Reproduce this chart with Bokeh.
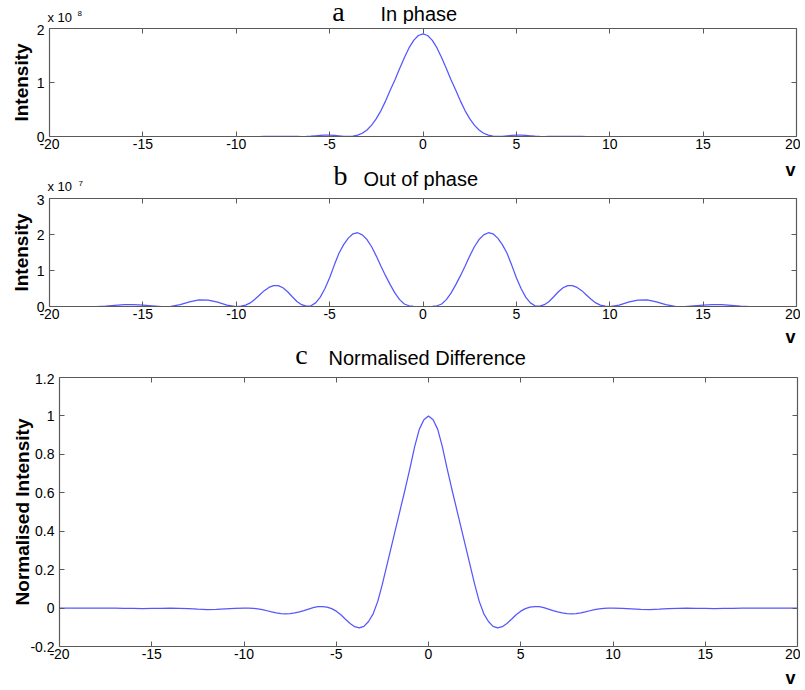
from bokeh.plotting import figure
from bokeh.models import Range1d, FixedTicker, Label, LinearAxis
from bokeh.layouts import column
from bokeh.embed import file_html
from bokeh.resources import INLINE

# ---------------- data ----------------
V = [-20, -19.5, -19, -18.5, -18, -17.5, -17, -16.5, -16, -15.5,
     -15, -14.5, -14, -13.5, -13, -12.5, -12, -11.5, -11, -10.5,
     -10, -9.75, -9.5, -9.25, -9, -8.75, -8.5, -8.25, -8, -7.75,
     -7.5, -7.25, -7, -6.75, -6.5, -6.25, -6, -5.75, -5.5, -5.25,
     -5, -4.75, -4.5, -4.25, -4, -3.75, -3.5, -3.25, -3, -2.75,
     -2.5, -2.25, -2, -1.75, -1.5, -1.25, -1, -0.75, -0.5, -0.25,
     0,
     0.25, 0.5, 0.75, 1, 1.25, 1.5, 1.75, 2, 2.25, 2.5,
     2.75, 3, 3.25, 3.5, 3.75, 4, 4.25, 4.5, 4.75, 5,
     5.25, 5.5, 5.75, 6, 6.25, 6.5, 6.75, 7, 7.25, 7.5,
     7.75, 8, 8.25, 8.5, 8.75, 9, 9.25, 9.5, 9.75, 10,
     10.5, 11, 11.5, 12, 12.5, 13, 13.5, 14, 14.5, 15,
     15.5, 16, 16.5, 17, 17.5, 18, 18.5, 19, 19.5, 20]

# In phase intensity, units of 1e8
IN_PHASE = [0, 0, 0, 0, 0, 0, 0, 0, 0, 0,
            0, 0, 0, 0, 0, 0, 0, 0, 0, 0,
            0, 0, 0, 0, 0, 0, 0.001, 0.002, 0.003, 0.004,
            0.004, 0.003, 0.002, 0.001, 0, 0.001, 0.005, 0.012, 0.019, 0.024,
            0.025, 0.02, 0.012, 0.004, 0.002, 0.008, 0.025, 0.06, 0.12, 0.21,
            0.33, 0.48, 0.66, 0.86, 1.05, 1.26, 1.46, 1.64, 1.78, 1.87,
            1.90,
            1.87, 1.78, 1.64, 1.46, 1.26, 1.05, 0.86, 0.66, 0.48, 0.33,
            0.21, 0.12, 0.06, 0.025, 0.008, 0.002, 0.004, 0.012, 0.02, 0.025,
            0.024, 0.019, 0.012, 0.005, 0.001, 0, 0.001, 0.002, 0.003, 0.004,
            0.004, 0.003, 0.002, 0.001, 0, 0, 0, 0, 0, 0,
            0, 0, 0, 0, 0, 0, 0, 0, 0, 0,
            0, 0, 0, 0, 0, 0, 0, 0, 0, 0]

# Out of phase intensity, units of 1e7
OUT_PHASE = [0, 0, 0, 0, 0, 0, 0.01, 0.03, 0.05, 0.05,
             0.04, 0.02, 0, 0.005, 0.05, 0.13, 0.185, 0.18, 0.12, 0.04,
             0, 0.01, 0.04, 0.1, 0.2, 0.32, 0.44, 0.53, 0.58, 0.58,
             0.52, 0.41, 0.27, 0.14, 0.05, 0.01, 0.02, 0.1, 0.26, 0.5,
             0.8, 1.15, 1.48, 1.72, 1.9, 2.02, 2.05, 1.99, 1.86, 1.66,
             1.4, 1.12, 0.85, 0.6, 0.37, 0.19, 0.07, 0.02, 0.005, 0,
             0,
             0, 0.005, 0.02, 0.07, 0.19, 0.37, 0.6, 0.85, 1.12, 1.4,
             1.66, 1.86, 1.99, 2.05, 2.02, 1.9, 1.72, 1.48, 1.15, 0.8,
             0.5, 0.26, 0.1, 0.02, 0.01, 0.05, 0.14, 0.27, 0.41, 0.52,
             0.58, 0.58, 0.53, 0.44, 0.32, 0.2, 0.1, 0.04, 0.01, 0,
             0.04, 0.12, 0.18, 0.185, 0.13, 0.05, 0.005, 0, 0.02, 0.04,
             0.05, 0.05, 0.03, 0.01, 0, 0, 0, 0, 0, 0]

# Normalised difference
NORM_DIFF = [0, 0, 0, 0, 0, 0, 0, -0.001, -0.002, -0.003,
             -0.002, -0.001, 0, -0.001, -0.003, -0.006, -0.008, -0.007, -0.004, -0.001,
             0, 0, -0.001, -0.004, -0.008, -0.014, -0.02, -0.025, -0.029, -0.03,
             -0.029, -0.025, -0.02, -0.013, -0.005, 0.002, 0.007, 0.008, 0.005, -0.003,
             -0.016, -0.035, -0.058, -0.08, -0.097, -0.103, -0.095, -0.07, -0.03, 0.035,
             0.125, 0.225, 0.325, 0.425, 0.525, 0.625, 0.73, 0.84, 0.93, 0.98,
             1.0,
             0.98, 0.93, 0.84, 0.73, 0.625, 0.525, 0.425, 0.325, 0.225, 0.125,
             0.035, -0.03, -0.07, -0.095, -0.103, -0.097, -0.08, -0.058, -0.035, -0.016,
             -0.003, 0.005, 0.008, 0.007, 0.002, -0.005, -0.013, -0.02, -0.025, -0.029,
             -0.03, -0.029, -0.025, -0.02, -0.014, -0.008, -0.004, -0.001, 0, 0,
             -0.001, -0.004, -0.007, -0.008, -0.006, -0.003, -0.001, 0, -0.001, -0.002,
             -0.003, -0.002, -0.001, 0, 0, 0, 0, 0, 0, 0]

X_TICKS = [-20, -15, -10, -5, 0, 5, 10, 15, 20]
X_TICK_LABELS = ["-20", "-15", "-10", "-5", "0", "5", "10", "15", "20"]
A_TICKS = [0, 1, 2]
A_TICK_LABELS = ["0", "1", "2"]
B_TICKS = [0, 1, 2, 3]
B_TICK_LABELS = ["0", "1", "2", "3"]
C_TICKS = [-0.2, 0, 0.2, 0.4, 0.6, 0.8, 1.0, 1.2]
C_TICK_LABELS = ["-0.2", "0", "0.2", "0.4", "0.6", "0.8", "1", "1.2"]

# ---------------- styling ----------------
SANS = "Liberation Sans"
SERIF = "Liberation Serif"
AXC = "#5a5a5a"
LINEC = "#5656ff"
TICKFS = "14px"
W = 800


def lab(p, text, x, y, size, bold=False, serif=False, align="left"):
    p.add_layout(Label(x=x, y=y, x_units="screen", y_units="screen", text=text,
                       text_font=SERIF if serif else SANS,
                       text_font_size=size,
                       text_font_style="bold" if bold else "normal",
                       text_color="black", text_align=align,
                       text_baseline="middle"))


def strip(h):
    s = figure(width=W, height=h, x_range=Range1d(0, W), y_range=Range1d(0, h),
               output_backend="svg", toolbar_location=None, min_border=0,
               x_axis_location=None, y_axis_location=None, frame_align=False)
    s.xgrid.visible = False
    s.ygrid.visible = False
    s.outline_line_color = None
    s.border_fill_color = "white"
    return s


def make_fig(h, bl, br, bt, bb, yr, yticks, ylabels, ylabel, ylab_standoff):
    p = figure(width=W, height=h, x_range=Range1d(-20, 20),
               y_range=Range1d(yr[0], yr[1]), output_backend="svg",
               toolbar_location=None, min_border_left=bl, min_border_right=br,
               min_border_top=bt, min_border_bottom=bb, frame_align=False)
    p.xgrid.visible = False
    p.ygrid.visible = False
    p.outline_line_color = None
    p.border_fill_color = "white"
    p.add_layout(LinearAxis(), "above")
    p.add_layout(LinearAxis(), "right")
    for ax in p.xaxis:
        ax.ticker = FixedTicker(ticks=X_TICKS)
        ax.major_label_overrides = dict(zip(X_TICKS, X_TICK_LABELS))
    for ax in p.yaxis:
        ax.ticker = FixedTicker(ticks=yticks)
        ax.major_label_overrides = dict(zip(yticks, ylabels))
    for ax in p.xaxis + p.yaxis:
        ax.axis_line_color = AXC
        ax.axis_line_width = 1.2
        ax.major_tick_line_color = AXC
        ax.major_tick_in = 5
        ax.major_tick_out = 0
        ax.minor_tick_line_color = None
        ax.major_label_text_font = SANS
        ax.major_label_text_font_size = TICKFS
        ax.major_label_text_color = "black"
    p.below[0].major_label_standoff = 2
    p.left[0].major_label_standoff = 5
    p.left[0].axis_label = ylabel
    p.left[0].axis_label_standoff = ylab_standoff
    p.left[0].axis_label_text_font = SANS
    p.left[0].axis_label_text_font_size = "19px"
    p.left[0].axis_label_text_font_style = "bold"
    p.left[0].axis_label_text_color = "black"
    p.above[0].major_label_overrides = {t: "" for t in X_TICKS}
    p.right[0].major_label_overrides = {t: "" for t in yticks}
    for ax in (p.above[0], p.right[0]):
        ax.major_label_text_font_size = "0px"
        ax.major_label_standoff = 0
    return p


# ---------------- top strip: panel a title (page y 0-24) ----------------
s0 = strip(24)
lab(s0, "a", 338, 13.3, "28px", serif=True, align="center")
lab(s0, "In phase", 380, 11, "20px")
lab(s0, "x 10", 47, 7.2, "13px")
lab(s0, "8", 77, 11.0, "8px")

# ---------------- panel a (page y 24-156, frame 28-136) ----------------
pa = make_fig(132, 49, 4, 4, 20, (0, 2), A_TICKS, A_TICK_LABELS, "Intensity", 2)
pa.line(V, IN_PHASE, line_color=LINEC, line_width=1.25)

# ---------------- strip between a and b (page y 156-194) ----------------
s1 = strip(38)
lab(s1, "v", 790, 24.3, "18px", bold=True, align="center")
lab(s1, "b", 340, 18.8, "28px", serif=True, align="center")
lab(s1, "Out of phase", 363, 16, "20px")
lab(s1, "x 10", 47, 7.6, "13px")
lab(s1, "7", 78, 11.5, "8px")

# ---------------- panel b (page y 194-326, frame 198-306) ----------------
pb = make_fig(132, 49, 4, 4, 20, (0, 3), B_TICKS, B_TICK_LABELS, "Intensity", 2)
pb.line(V, OUT_PHASE, line_color=LINEC, line_width=1.25)

# ---------------- strip between b and c (page y 326-373) ----------------
s2 = strip(47)
lab(s2, "v", 790, 36.3, "18px", bold=True, align="center")
lab(s2, "c", 301, 19.3, "28px", serif=True, align="center")
lab(s2, "Normalised Difference", 328, 16, "20px")

# ---------------- panel c (page y 373-668, frame 377-646) ----------------
pc = make_fig(295, 59, 3, 4, 22, (-0.2, 1.2), C_TICKS, C_TICK_LABELS,
              "Normalised Intensity", -6)
pc.line(V, NORM_DIFF, line_color=LINEC, line_width=1.25)

# ---------------- bottom strip (page y 668-688) ----------------
s3 = strip(20)
lab(s3, "v", 790, 10.3, "18px", bold=True, align="center")

layout = column(s0, pa, s1, pb, s2, pc, s3, spacing=0)
open("out.html", "w").write(file_html(layout, INLINE))
